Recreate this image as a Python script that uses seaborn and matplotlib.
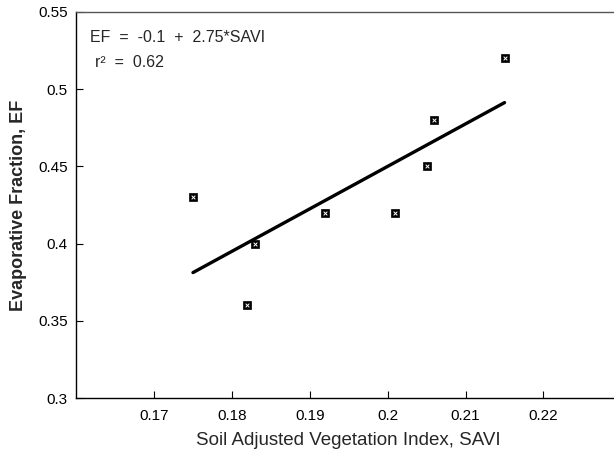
import matplotlib
matplotlib.use("Agg")
import matplotlib.pyplot as plt
import seaborn as sns
import numpy as np
import pandas as pd

savi = [0.175, 0.182, 0.183, 0.192, 0.201, 0.205, 0.206, 0.215]
ef = [0.43, 0.36, 0.40, 0.42, 0.42, 0.45, 0.48, 0.52]

# fitted line EF = -0.1 + 2.75*SAVI, drawn over the data range
fit_savi = [0.175, 0.215]
fit_ef = [-0.1 + 2.75 * s for s in fit_savi]

x_ticks = [0.17, 0.18, 0.19, 0.20, 0.21, 0.22]
x_labels = ['0.17', '0.18', '0.19', '0.2', '0.21', '0.22']
y_ticks = [0.30, 0.35, 0.40, 0.45, 0.50, 0.55]
y_labels = ['0.3', '0.35', '0.4', '0.45', '0.5', '0.55']

sns.set_theme(style='white')
plt.rcParams['font.family'] = ['Liberation Sans', 'DejaVu Sans']

df = pd.DataFrame({'SAVI': savi, 'EF': ef})
fit_df = pd.DataFrame({'SAVI': fit_savi, 'EF': fit_ef})

fig = plt.figure(figsize=(6.14, 4.55), dpi=100)
ax = fig.add_axes([0.124, 0.125, 0.888, 0.849])

sns.lineplot(data=fit_df, x='SAVI', y='EF', ax=ax, color='black', linewidth=2.4)
sns.scatterplot(data=df, x='SAVI', y='EF', ax=ax, marker='s', s=30,
                color='black', edgecolor='black', linewidth=0.5, zorder=3)
sns.scatterplot(data=df, x='SAVI', y='EF', ax=ax, marker='x', s=7,
                color='white', linewidth=0.7, zorder=4)

ax.set_xlim(0.16, 0.23)
ax.set_ylim(0.30, 0.55)
ax.set_xticks(x_ticks)
ax.set_xticklabels(x_labels)
ax.set_yticks(y_ticks)
ax.set_yticklabels(y_labels)
ax.tick_params(direction='in', length=5, width=0.8, colors='black',
               labelsize=11, bottom=True, left=True)
ax.tick_params(axis='x', pad=8)
ax.tick_params(axis='y', pad=6)

for side in ['left', 'bottom', 'top']:
    ax.spines[side].set_color('black')
    ax.spines[side].set_linewidth(1.0)
ax.spines['top'].set_color('#555555')
ax.spines['right'].set_visible(False)

ax.set_xlabel('Soil Adjusted Vegetation Index, SAVI', fontsize=13.5, labelpad=6)
ax.set_ylabel('Evaporative Fraction, EF', fontsize=13, fontweight='bold', labelpad=8)

ax.text(0.025, 0.933, 'EF  =  -0.1  +  2.75*SAVI', transform=ax.transAxes,
        fontsize=11.5, va='center', ha='left')
ax.text(0.035, 0.868, 'r\u00b2  =  0.62', transform=ax.transAxes,
        fontsize=11.5, va='center', ha='left')

fig.savefig('out.png', dpi=100)
